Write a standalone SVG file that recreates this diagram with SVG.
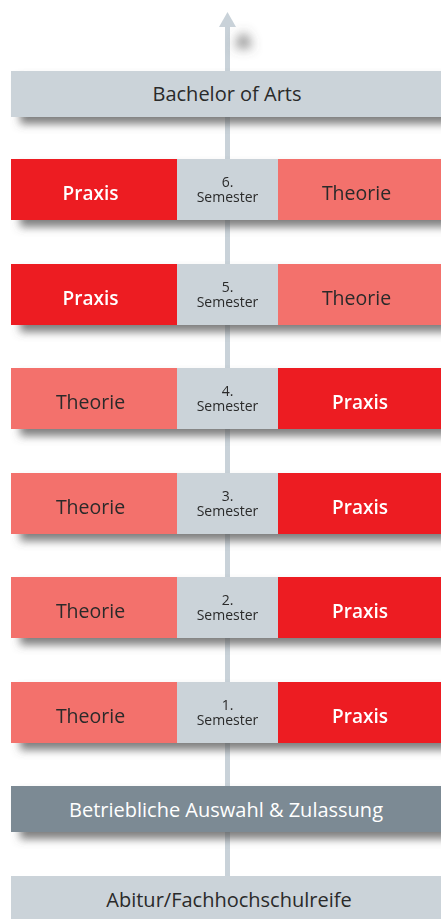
<svg xmlns="http://www.w3.org/2000/svg" width="441" height="919" viewBox="0 0 441 919">
<defs>
<filter id="sh" x="-10%" y="-30%" width="130%" height="180%">
<feGaussianBlur in="SourceAlpha" stdDeviation="4"/>
<feOffset dx="9" dy="7" result="b"/>
<feFlood flood-color="#555" flood-opacity="0.75"/>
<feComposite in2="b" operator="in"/>
<feMerge><feMergeNode/><feMergeNode in="SourceGraphic"/></feMerge>
</filter>
<filter id="ash" x="-200%" y="-200%" width="600%" height="600%">
<feGaussianBlur in="SourceAlpha" stdDeviation="6"/>
<feOffset dx="16" dy="20" result="b"/>
<feFlood flood-color="#555" flood-opacity="0.9"/>
<feComposite in2="b" operator="in"/>
<feMerge><feMergeNode/><feMergeNode in="SourceGraphic"/></feMerge>
</filter>
</defs>
<style>
text{font-family:"Open Sans","Noto Sans","Liberation Sans",sans-serif;text-anchor:middle;font-weight:500}
.g{fill:#cbd3d9}
.r{fill:#ed1c24}
.s{fill:#f3716c}
.d{fill:#7b8a94}
.t{font-size:20px;fill:#2a2a2a}
.pw{font-size:19px;fill:#fff;font-weight:600}
.th{font-size:19.5px;fill:#2a2a2a}
.n{font-size:14px;fill:#2a2a2a}
.w{font-size:20px;fill:#fff}
</style>
<g id="connectors">
<rect x="225" y="26" width="5" height="852" fill="#c9d2d9"/>
<polygon points="227.5,12 219,27 236,27" fill="#c9d2d9" filter="url(#ash)"/>
</g>
<g id="bachelor">
<rect class="g" x="11" y="71" width="430" height="46" filter="url(#sh)"/>
<text class="t" x="227" y="101">Bachelor of Arts</text>
</g>
<g id="sem6" filter="url(#sh)">
<rect class="r" x="11" y="159" width="166" height="61"/>
<rect class="g" x="177" y="159" width="101" height="61"/>
<rect class="s" x="278" y="159" width="163" height="61"/>
<text class="pw" x="90.5" y="199.5">Praxis</text>
<text class="n" x="227.5" y="187">6.<tspan x="227.5" dy="15">Semester</tspan></text>
<text class="th" x="356.5" y="199.5">Theorie</text>
</g>
<g id="sem5" filter="url(#sh)">
<rect class="r" x="11" y="264" width="166" height="61"/>
<rect class="g" x="177" y="264" width="101" height="61"/>
<rect class="s" x="278" y="264" width="163" height="61"/>
<text class="pw" x="90.5" y="304.5">Praxis</text>
<text class="n" x="227.5" y="292">5.<tspan x="227.5" dy="15">Semester</tspan></text>
<text class="th" x="356.5" y="304.5">Theorie</text>
</g>
<g id="sem4" filter="url(#sh)">
<rect class="s" x="11" y="368" width="166" height="61"/>
<rect class="g" x="177" y="368" width="101" height="61"/>
<rect class="r" x="278" y="368" width="163" height="61"/>
<text class="th" x="90.5" y="408.5">Theorie</text>
<text class="n" x="227.5" y="396">4.<tspan x="227.5" dy="15">Semester</tspan></text>
<text class="pw" x="360" y="408.5">Praxis</text>
</g>
<g id="sem3" filter="url(#sh)">
<rect class="s" x="11" y="473" width="166" height="61"/>
<rect class="g" x="177" y="473" width="101" height="61"/>
<rect class="r" x="278" y="473" width="163" height="61"/>
<text class="th" x="90.5" y="513.5">Theorie</text>
<text class="n" x="227.5" y="501">3.<tspan x="227.5" dy="15">Semester</tspan></text>
<text class="pw" x="360" y="513.5">Praxis</text>
</g>
<g id="sem2" filter="url(#sh)">
<rect class="s" x="11" y="577" width="166" height="61"/>
<rect class="g" x="177" y="577" width="101" height="61"/>
<rect class="r" x="278" y="577" width="163" height="61"/>
<text class="th" x="90.5" y="617.5">Theorie</text>
<text class="n" x="227.5" y="605">2.<tspan x="227.5" dy="15">Semester</tspan></text>
<text class="pw" x="360" y="617.5">Praxis</text>
</g>
<g id="sem1" filter="url(#sh)">
<rect class="s" x="11" y="682" width="166" height="61"/>
<rect class="g" x="177" y="682" width="101" height="61"/>
<rect class="r" x="278" y="682" width="163" height="61"/>
<text class="th" x="90.5" y="722.5">Theorie</text>
<text class="n" x="227.5" y="710">1.<tspan x="227.5" dy="15">Semester</tspan></text>
<text class="pw" x="360" y="722.5">Praxis</text>
</g>
<g id="auswahl">
<rect class="d" x="11" y="786" width="430" height="46" filter="url(#sh)"/>
<text class="w" x="226" y="817">Betriebliche Auswahl &amp; Zulassung</text>
</g>
<g id="abitur">
<rect class="g" x="11" y="876" width="430" height="43"/>
<text class="t" x="229" y="907">Abitur/Fachhochschulreife</text>
</g>
</svg>
